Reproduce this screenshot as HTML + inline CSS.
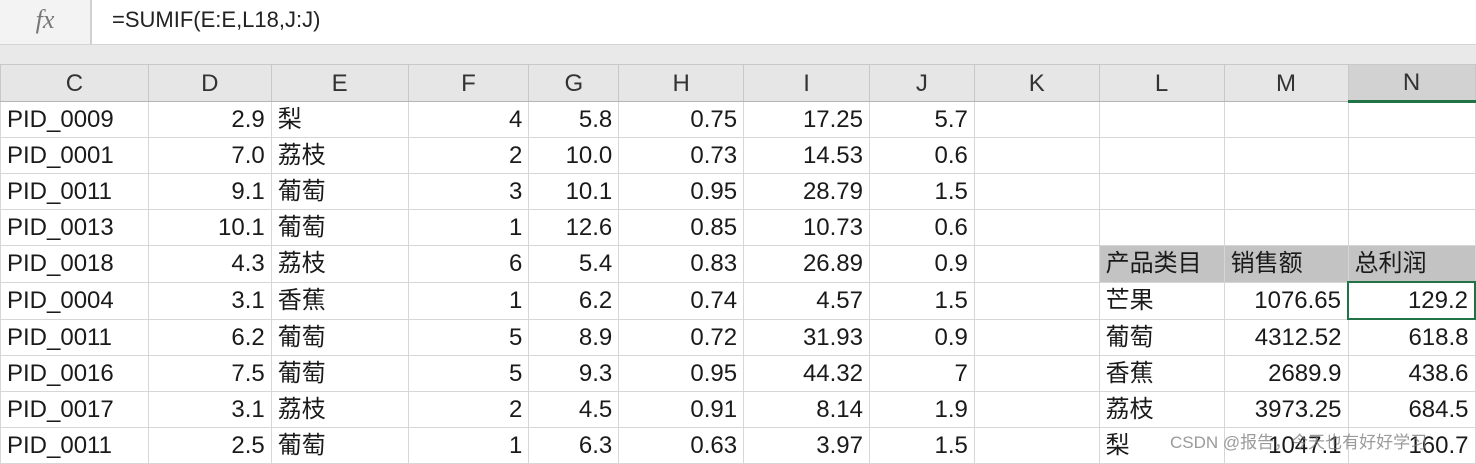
<!DOCTYPE html>
<html><head><meta charset="utf-8">
<style>
body{margin:0;width:1476px;height:460px;overflow:hidden;background:#fff;font-family:"Liberation Sans","Noto Sans CJK SC",sans-serif;position:relative}
#fbar{position:absolute;left:0;top:0;width:1476px;height:44px;background:#fff;border-bottom:1px solid #d4d4d4}
#fx{position:absolute;left:0;top:0;width:90px;height:44px;background:#f3f3f3;border-right:2px solid #d0d0d0;font-family:"Liberation Serif",serif;font-style:italic;color:#777;font-size:26px;text-align:center;line-height:40px}
#formula{position:absolute;left:112px;top:0;line-height:40px;font-size:22px;color:#222}
#gap{position:absolute;left:0;top:45px;width:1476px;height:19px;background:#e9e9e9}
table{position:absolute;left:0;top:64px;border-collapse:collapse;table-layout:fixed;font-size:24px;color:#1a1a1a}
td{border:1px solid #d6d6d6;height:36px;padding:0 6px;white-space:nowrap;overflow:hidden;box-sizing:border-box;line-height:35px}
tr.h td{background:#e6e6e6;text-align:center;color:#333;border-color:#c8c8c8;border-bottom:1px solid #b5b5b5;height:36px}
td.r{text-align:right}
td.g{background:#c3c3c3}
#wm{position:absolute;left:1170px;top:428px;font-size:17px;color:rgba(120,120,120,0.75)}
</style></head><body>
<div id="fbar">
<div id="fx">fx</div>
<div id="formula">=SUMIF(E:E,L18,J:J)</div>
</div>
<div id="gap"></div>
<table>
<colgroup><col style="width:148px"><col style="width:123px"><col style="width:137px"><col style="width:121px"><col style="width:90px"><col style="width:125px"><col style="width:126px"><col style="width:105px"><col style="width:125px"><col style="width:125px"><col style="width:124px"><col style="width:127px"></colgroup>
<tr class="h"><td>C</td><td>D</td><td>E</td><td>F</td><td>G</td><td>H</td><td>I</td><td>J</td><td>K</td><td>L</td><td>M</td><td style="background:#d2d2d2;border-bottom:3px solid #217346">N</td></tr>
<tr><td>PID_0009</td><td class="r">2.9</td><td>梨</td><td class="r">4</td><td class="r">5.8</td><td class="r">0.75</td><td class="r">17.25</td><td class="r">5.7</td><td></td><td></td><td></td><td></td></tr>
<tr><td>PID_0001</td><td class="r">7.0</td><td>荔枝</td><td class="r">2</td><td class="r">10.0</td><td class="r">0.73</td><td class="r">14.53</td><td class="r">0.6</td><td></td><td></td><td></td><td></td></tr>
<tr><td>PID_0011</td><td class="r">9.1</td><td>葡萄</td><td class="r">3</td><td class="r">10.1</td><td class="r">0.95</td><td class="r">28.79</td><td class="r">1.5</td><td></td><td></td><td></td><td></td></tr>
<tr><td>PID_0013</td><td class="r">10.1</td><td>葡萄</td><td class="r">1</td><td class="r">12.6</td><td class="r">0.85</td><td class="r">10.73</td><td class="r">0.6</td><td></td><td></td><td></td><td></td></tr>
<tr><td>PID_0018</td><td class="r">4.3</td><td>荔枝</td><td class="r">6</td><td class="r">5.4</td><td class="r">0.83</td><td class="r">26.89</td><td class="r">0.9</td><td></td><td class="g">产品类目</td><td class="g">销售额</td><td class="g">总利润</td></tr>
<tr><td>PID_0004</td><td class="r">3.1</td><td>香蕉</td><td class="r">1</td><td class="r">6.2</td><td class="r">0.74</td><td class="r">4.57</td><td class="r">1.5</td><td></td><td>芒果</td><td class="r">1076.65</td><td class="r" style="border:2px solid #217346">129.2</td></tr>
<tr><td>PID_0011</td><td class="r">6.2</td><td>葡萄</td><td class="r">5</td><td class="r">8.9</td><td class="r">0.72</td><td class="r">31.93</td><td class="r">0.9</td><td></td><td>葡萄</td><td class="r">4312.52</td><td class="r">618.8</td></tr>
<tr><td>PID_0016</td><td class="r">7.5</td><td>葡萄</td><td class="r">5</td><td class="r">9.3</td><td class="r">0.95</td><td class="r">44.32</td><td class="r">7</td><td></td><td>香蕉</td><td class="r">2689.9</td><td class="r">438.6</td></tr>
<tr><td>PID_0017</td><td class="r">3.1</td><td>荔枝</td><td class="r">2</td><td class="r">4.5</td><td class="r">0.91</td><td class="r">8.14</td><td class="r">1.9</td><td></td><td>荔枝</td><td class="r">3973.25</td><td class="r">684.5</td></tr>
<tr><td>PID_0011</td><td class="r">2.5</td><td>葡萄</td><td class="r">1</td><td class="r">6.3</td><td class="r">0.63</td><td class="r">3.97</td><td class="r">1.5</td><td></td><td>梨</td><td class="r">1047.1</td><td class="r">160.7</td></tr>
</table>
<div id="wm">CSDN @报告，今天也有好好学习</div>
</body></html>
